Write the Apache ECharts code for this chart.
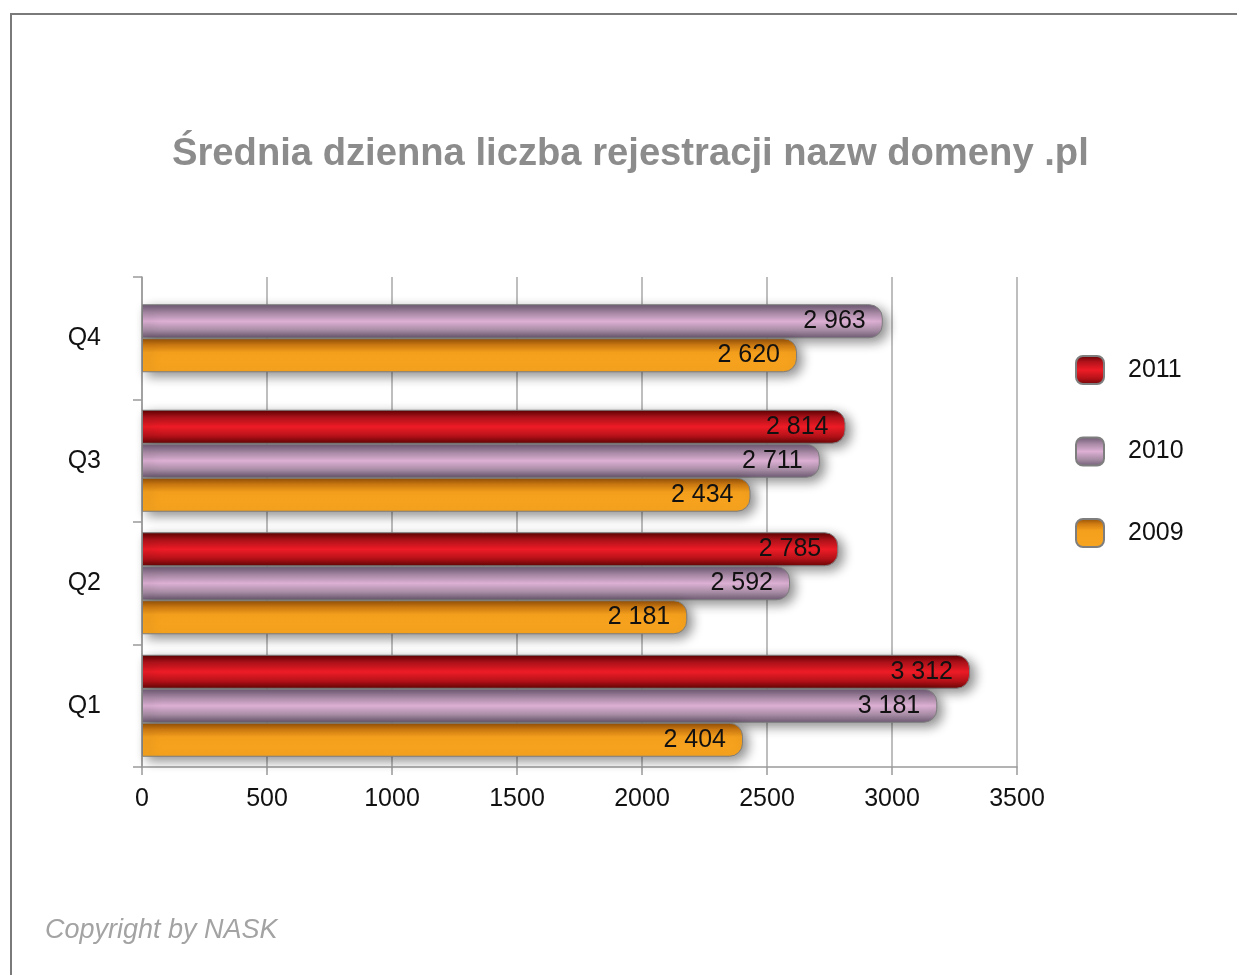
<!DOCTYPE html>
<html>
<head>
<meta charset="utf-8">
<script src="https://cdn.jsdelivr.net/npm/echarts@6/dist/echarts.min.js"></script>
<style>
  html, body { margin: 0; padding: 0; background: #fff; }
  #frame {
    position: absolute; left: 10px; top: 13px; width: 1227px; height: 962px;
    border-top: 2px solid #7a7a7a; border-left: 2px solid #7a7a7a;
    box-sizing: border-box;
  }
  #chart { position: absolute; left: 0; top: 0; width: 1237px; height: 975px; }
</style>
</head>
<body>
<div id="frame"></div>
<div id="chart"></div>
<script>
// data
const categories = ['Q1', 'Q2', 'Q3', 'Q4']
const values2011 = [3312, 2785, 2814, null]
const values2010 = [3181, 2592, 2711, 2963]
const values2009 = [2404, 2181, 2434, 2620]
const seriesNames = ['2011', '2010', '2009']
const xMin = 0
const xMax = 3500
const xStep = 500

const font = '"Liberation Sans", Arial, sans-serif'

// Q4 has no 2011 value, so its bars sit centred on their own (hidden) axis
const mainData = (arr) => arr.map((v, i) => values2011[i] == null ? '-' : v)
const soloData = (arr) => arr.map((v, i) => values2011[i] == null ? v : '-')

const grad = (stops) => new echarts.graphic.LinearGradient(0, 0, 0, 1,
  stops.map(([offset, color]) => ({ offset, color })))

const colors = {
  '2011': grad([[0, '#5a0000'], [0.22, '#b0121a'], [0.5, '#ee1c26'], [0.78, '#b51219'], [1, '#6a0606']]),
  '2010': grad([[0, '#6a5670'], [0.25, '#a98aa6'], [0.5, '#ddb0d4'], [0.78, '#a48aa2'], [1, '#6e5a74']]),
  '2009': grad([[0, '#8e4c06'], [0.2, '#d07c12'], [0.42, '#f5a01d'], [1, '#f7a41f']])
}

const fmt = (p) => String(p.value).replace(/\B(?=(\d{3})+(?!\d))/g, ' ')

const makeBar = (name, data, axisIndex) => ({
  name,
  type: 'bar',
  yAxisIndex: axisIndex,
  data,
  barWidth: 34,
  barGap: '0%',
  itemStyle: {
    color: colors[name],
    borderColor: '#7e7e7e',
    borderWidth: 1,
    borderRadius: [0, 13, 13, 0],
    shadowBlur: 12,
    shadowColor: 'rgba(0,0,0,0.45)',
    shadowOffsetX: 5,
    shadowOffsetY: 4
  },
  label: {
    show: true,
    position: 'insideRight',
    distance: 17,
    formatter: fmt,
    color: '#111',
    fontSize: 25,
    fontFamily: font
  }
})

const series = [
  makeBar('2011', mainData(values2011), 0),
  makeBar('2010', mainData(values2010), 0),
  makeBar('2009', mainData(values2009), 0),
  makeBar('2010', soloData(values2010), 1),
  makeBar('2009', soloData(values2009), 1)
]

const chart = echarts.init(document.getElementById('chart'))
chart.setOption({
  animation: false,
  textStyle: { fontFamily: font },
  title: {
    text: 'Średnia dzienna liczba rejestracji nazw domeny .pl',
    left: 167,
    top: 130,
    textStyle: { fontSize: 38.2, fontWeight: 'bold', color: '#8c8c8c', fontFamily: font }
  },
  graphic: [{
    type: 'text',
    left: 45,
    top: 917,
    style: { text: 'Copyright by NASK', fontSize: 27, fontStyle: 'italic', fill: '#a3a3a3', fontFamily: font }
  }],
  legend: {
    data: seriesNames,
    orient: 'vertical',
    left: 1070,
    top: 350,
    itemWidth: 28,
    itemHeight: 28,
    itemGap: 51.5,
    icon: 'roundRect',
    textStyle: { fontSize: 25, color: '#111', fontFamily: font, padding: [0, 0, 0, 19] }
  },
  grid: { left: 142, right: 220, top: 277, bottom: 208 },
  xAxis: {
    type: 'value',
    min: xMin,
    max: xMax,
    interval: xStep,
    axisLine: { show: true, lineStyle: { color: '#9a9a9a', width: 1.5 } },
    axisTick: { show: true, length: 8, lineStyle: { color: '#9a9a9a', width: 1.5 } },
    splitLine: { show: true, lineStyle: { color: '#a8a8a8', width: 1.5 } },
    axisLabel: { fontSize: 25, color: '#111', margin: 20, fontFamily: font, formatter: (v) => String(v) }
  },
  yAxis: [{
    type: 'category',
    data: categories,
    axisLine: { show: true, lineStyle: { color: '#9a9a9a', width: 1.5 } },
    axisTick: { show: true, length: 9, lineStyle: { color: '#9a9a9a', width: 1.5 } },
    axisLabel: { fontSize: 25, color: '#111', margin: 41, fontFamily: font }
  }, {
    type: 'category',
    data: categories,
    show: false
  }],
  series
})
</script>
</body>
</html>
